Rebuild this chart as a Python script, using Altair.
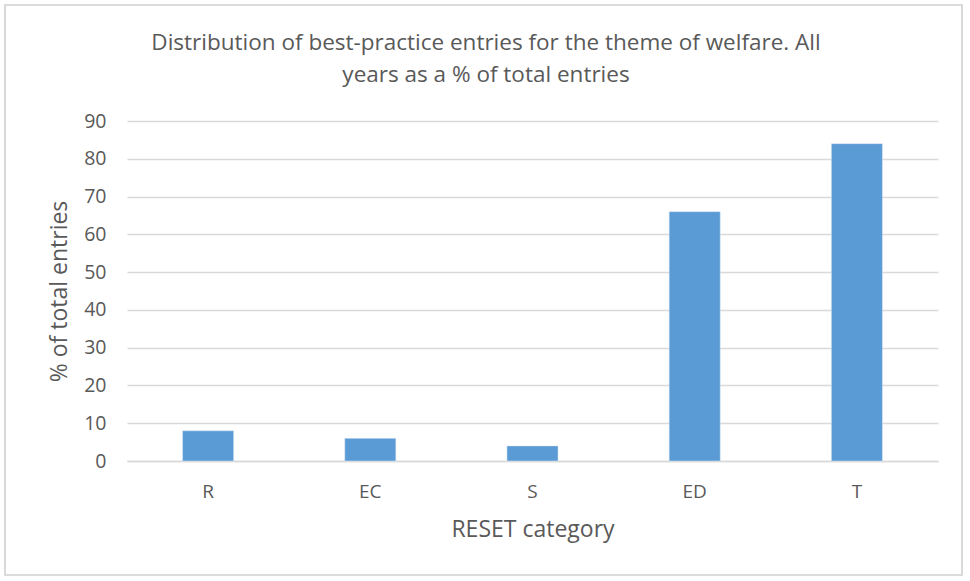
import altair as alt
import pandas as pd

categories = ["R", "EC", "S", "ED", "T"]
values = [8, 6, 4, 66, 84]
title_lines = ["Distribution of best-practice entries for the theme of welfare. All",
               "years as a % of total entries"]

df = pd.DataFrame({"category": categories, "value": values})

FONT = "Open Sans"
GREY = "#595959"

bars = alt.Chart(df).mark_bar(color="#5B9BD5", stroke="#DEEBF7", strokeWidth=0.5).encode(
    x=alt.X("category:N", sort=categories,
            scale=alt.Scale(paddingInner=0.685, paddingOuter=0.3425),
            axis=alt.Axis(title="RESET category", labelAngle=0, labelFontSize=19,
                          labelColor=GREY, labelFont=FONT, labelPadding=21,
                          titleFontSize=23, titleColor=GREY, titleFont=FONT,
                          titleFontWeight="normal", titlePadding=17,
                          ticks=False, domainColor="#D9D9D9", domainWidth=1.5)),
    y=alt.Y("value:Q", scale=alt.Scale(domain=[0, 90], nice=False),
            axis=alt.Axis(title="% of total entries", values=list(range(0, 91, 10)),
                          labelFontSize=19.5, labelColor=GREY, labelFont=FONT,
                          labelPadding=21, titleFontSize=23, titleColor=GREY,
                          titleFont=FONT, titleFontWeight="normal", titlePadding=12,
                          ticks=False, domain=False, gridColor="#D9D9D9",
                          gridWidth=1.5)),
)

border = alt.Chart(df).mark_rect(fill=None, stroke="#D9D9D9", strokeWidth=1.2, clip=False).encode(
    x=alt.value(-122), x2=alt.value(835), y=alt.value(-116), y2=alt.value(454)
)

t1 = alt.Chart(pd.DataFrame({"t": [title_lines[0]]})).mark_text(
    font=FONT, fontSize=22.5, color=GREY, align="center", baseline="middle"
).encode(text="t:N", x=alt.value(359), y=alt.value(-78))
t2 = alt.Chart(pd.DataFrame({"t": [title_lines[1]]})).mark_text(
    font=FONT, fontSize=22.5, color=GREY, align="center", baseline="middle"
).encode(text="t:N", x=alt.value(359), y=alt.value(-46))

chart = alt.layer(border, bars, t1, t2).properties(
    width=811, height=340,
    autosize=alt.AutoSizeParams(type="none"),
    padding={"left": 127, "top": 121, "right": 32, "bottom": 120},
).configure(background="white").configure_view(stroke=None)

chart.save("out.html", embed_options={"renderer": "svg", "actions": False})
